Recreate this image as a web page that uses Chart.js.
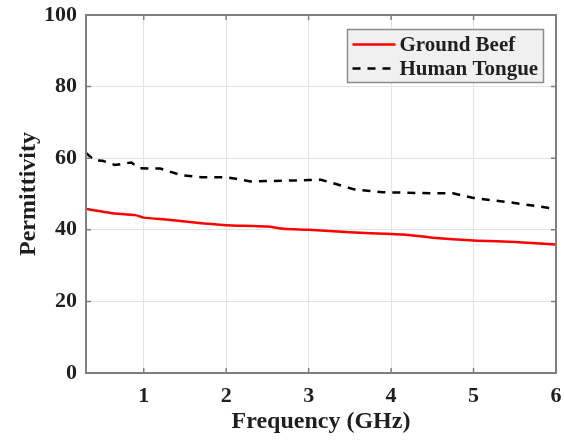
<!DOCTYPE html>
<html>
<head>
<meta charset="utf-8">
<script src="https://cdn.jsdelivr.net/npm/chart.js@4"></script>
<style>
html,body{margin:0;padding:0;background:#fff;}
#wrap{width:564px;height:440px;position:relative;}
</style>
</head>
<body>
<div id="wrap"><canvas id="c" width="564" height="440"></canvas></div>
<script>
// ---- data ----
const seriesNames = ["Ground Beef", "Human Tongue"];
const beefFreq = [0.3, 0.6, 0.9, 1.0, 1.3, 1.7, 2.0, 2.5, 2.7, 3.0, 3.5, 4.0, 4.15, 4.5, 5.0, 5.5, 6.0];
const beefEps  = [45.8, 44.7, 44.1, 43.4, 42.8, 41.8, 41.3, 40.9, 40.3, 40.0, 39.3, 38.8, 38.7, 37.8, 37.0, 36.6, 35.9];
const tongueFreq = [0.3, 0.4, 0.5, 0.65, 0.85, 0.95, 1.2, 1.45, 1.7, 2.0, 2.1, 2.3, 2.7, 3.0, 3.15, 3.55, 3.9, 4.5, 4.75, 5.0, 5.5, 6.0];
const tongueEps  = [61.5, 59.4, 59.3, 58.1, 58.8, 57.2, 57.1, 55.3, 54.7, 54.7, 54.3, 53.5, 53.7, 53.9, 54.0, 51.3, 50.5, 50.2, 50.2, 48.9, 47.5, 45.8];
const xTicks = [1, 2, 3, 4, 5, 6];
const yTicks = [0, 20, 40, 60, 80, 100];
const xTitle = "Frequency (GHz)";
const yTitle = "Permittivity";

const FONT = "'Liberation Serif', 'Times New Roman', serif";
const AXIS = "#7f7f7f";
const TEXT = "#1f1f1f";

const toPts = (xs, ys) => xs.map((x, i) => ({x: x, y: ys[i]}));

const boxPlugin = {
  id: 'boxTicks',
  afterDatasetsDraw(chart) {
    const {ctx, chartArea: a, scales: {x, y}} = chart;
    ctx.save();
    ctx.strokeStyle = AXIS;
    ctx.lineWidth = 1.5;
    ctx.beginPath();
    xTicks.forEach(v => {
      const px = x.getPixelForValue(v);
      ctx.moveTo(px, a.bottom); ctx.lineTo(px, a.bottom - 5);
      ctx.moveTo(px, a.top); ctx.lineTo(px, a.top + 5);
    });
    yTicks.forEach(v => {
      const py = y.getPixelForValue(v);
      ctx.moveTo(a.left, py); ctx.lineTo(a.left + 5, py);
      ctx.moveTo(a.right, py); ctx.lineTo(a.right - 5, py);
    });
    ctx.stroke();
    ctx.lineWidth = 2;
    ctx.strokeRect(a.left, a.top, a.right - a.left, a.bottom - a.top);
    ctx.restore();
  }
};

const legendPlugin = {
  id: 'boxLegend',
  afterDraw(chart) {
    const {ctx, chartArea: a} = chart;
    const w = 196, h = 53;
    const bx = a.right - 12.5 - w, by = a.top + 14.5;
    ctx.save();
    ctx.fillStyle = "#f0f0f0";
    ctx.fillRect(bx, by, w, h);
    ctx.strokeStyle = "#8c8c8c";
    ctx.lineWidth = 1.5;
    ctx.strokeRect(bx, by, w, h);
    ctx.font = "bold 21px " + FONT;
    ctx.textBaseline = "middle";
    ctx.fillStyle = TEXT;
    chart.data.datasets.forEach((ds, i) => {
      const cy = by + 15 + i * 24;
      ctx.strokeStyle = ds.borderColor;
      ctx.lineWidth = ds.borderWidth;
      ctx.setLineDash(ds.borderDash || []);
      ctx.beginPath();
      ctx.moveTo(bx + 5, cy);
      ctx.lineTo(bx + 48, cy);
      ctx.stroke();
      ctx.setLineDash([]);
      ctx.fillText(ds.label, bx + 52, cy + 1);
    });
    ctx.restore();
  }
};

new Chart(document.getElementById('c'), {
  type: 'line',
  data: {
    datasets: [
      {label: seriesNames[0], data: toPts(beefFreq, beefEps), borderColor: '#ff0000', borderWidth: 2.5, pointRadius: 0, tension: 0.2, fill: false},
      {label: seriesNames[1], data: toPts(tongueFreq, tongueEps), borderColor: '#000000', borderWidth: 2.5, borderDash: [8, 7], pointRadius: 0, tension: 0, fill: false}
    ]
  },
  options: {
    responsive: false,
    animation: false,
    layout: {autoPadding: false, padding: {top: 15, right: 8, left: 0, bottom: 0}},
    plugins: {legend: {display: false}, tooltip: {enabled: false}},
    scales: {
      x: {
        type: 'linear', min: 0.3, max: 6,
        afterBuildTicks: s => { s.ticks = xTicks.map(v => ({value: v})); },
        afterFit: s => { s.height = 67; s.paddingLeft = 0; s.paddingRight = 0; },
        grid: {color: '#e3e3e3', lineWidth: 1, drawTicks: false},
        border: {display: false},
        ticks: {padding: 10, color: TEXT, font: {family: FONT, size: 22, weight: 'bold'}, maxRotation: 0},
        title: {display: true, text: xTitle, color: TEXT, font: {family: FONT, size: 24, weight: 'bold'}, padding: {top: 0, bottom: 4}}
      },
      y: {
        min: 0, max: 100,
        afterBuildTicks: s => { s.ticks = yTicks.map(v => ({value: v})); },
        afterFit: s => { s.width = 86; s.paddingTop = 0; s.paddingBottom = 0; },
        grid: {color: '#e3e3e3', lineWidth: 1, drawTicks: false},
        border: {display: false},
        ticks: {padding: 9, color: TEXT, font: {family: FONT, size: 22, weight: 'bold'}},
        title: {display: true, text: yTitle, color: TEXT, font: {family: FONT, size: 24, weight: 'bold'}, padding: {top: 14, bottom: 0}}
      }
    }
  },
  plugins: [boxPlugin, legendPlugin]
});
</script>
</body>
</html>
